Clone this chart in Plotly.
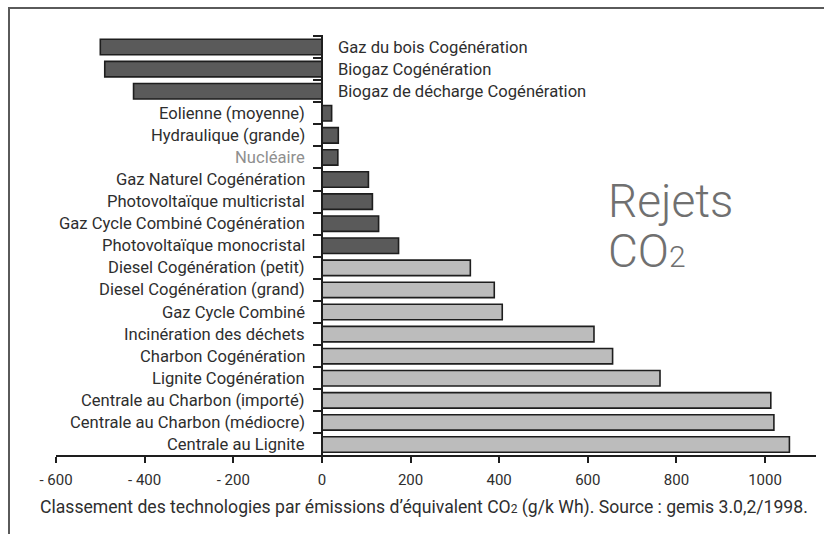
import plotly.graph_objects as go

categories = [
    "Gaz du bois Cogénération",
    "Biogaz Cogénération",
    "Biogaz de décharge Cogénération",
    "Eolienne (moyenne)",
    "Hydraulique (grande)",
    "Nucléaire",
    "Gaz Naturel Cogénération",
    "Photovoltaïque multicristal",
    "Gaz Cycle Combiné Cogénération",
    "Photovoltaïque monocristal",
    "Diesel Cogénération (petit)",
    "Diesel Cogénération (grand)",
    "Gaz Cycle Combiné",
    "Incinération des déchets",
    "Charbon Cogénération",
    "Lignite Cogénération",
    "Centrale au Charbon (importé)",
    "Centrale au Charbon (médiocre)",
    "Centrale au Lignite",
]
values = [-500, -490, -425, 22, 37, 36, 105, 114, 128, 173,
          335, 389, 407, 614, 656, 763, 1013, 1020, 1055]
is_renewable = [True] * 10 + [False] * 9

x_tick_vals = [-600, -400, -200, 0, 200, 400, 600, 800, 1000]
x_tick_text = ["- 600", "- 400", "- 200", "0", "200", "400", "600", "800", "1000"]

caption = ("Classement des technologies par émissions d’équivalent CO"
           "<span style='font-size:12px'>2</span> (g/k Wh). Source : gemis 3.0,2/1998.")

DARK = "#5a5a5a"
LIGHT = "#bcbcbc"
EDGE = "#1e1e1e"
TEXT = "#2e2e2e"
FONT = "Roboto"

W, H = 824, 534
ML, MR, MT, MB = 56, 8, 35, 79
x_range = [-600, 1115]

fig = go.Figure()
fig.add_trace(go.Bar(
    y=categories,
    x=values,
    orientation="h",
    marker=dict(color=[DARK if r else LIGHT for r in is_renewable],
                line=dict(color=EDGE, width=1.6)),
    hoverinfo="x+y",
))

annotations = []
for cat, v in zip(categories, values):
    color = "#8f8f8f" if cat == "Nucléaire" else TEXT
    if v < 0:
        annotations.append(dict(x=0, y=cat, xref="x", yref="y", text=cat,
                                showarrow=False, xanchor="left", xshift=14,
                                font=dict(family=FONT, size=16.6, color=color)))
    else:
        annotations.append(dict(x=0, y=cat, xref="x", yref="y", text=cat,
                                showarrow=False, xanchor="right", xshift=-15,
                                font=dict(family=FONT, size=16.6, color=color)))

pw = W - ML - MR
ph = H - MT - MB

def px_to_paper_x(p):
    return (p - ML) / pw

def px_to_paper_y(p):
    return (H - MB - p) / ph

annotations.append(dict(x=px_to_paper_x(424), y=px_to_paper_y(507), xref="paper", yref="paper",
                        text=caption, showarrow=False, xanchor="center", yanchor="middle",
                        font=dict(family=FONT, size=17.6, color=TEXT)))
annotations.append(dict(x=px_to_paper_x(606), y=px_to_paper_y(220), xref="paper", yref="paper",
                        text="Rejets", showarrow=False, xanchor="left", yanchor="bottom",
                        yshift=-10,
                        font=dict(family=FONT, size=46, color="#707070", weight=300)))
annotations.append(dict(x=px_to_paper_x(606), y=px_to_paper_y(270), xref="paper", yref="paper",
                        text="CO<span style='font-size:30px'>2</span>", showarrow=False,
                        xanchor="left", yanchor="bottom", yshift=-10,
                        font=dict(family=FONT, size=46, color="#707070", weight=300)))

zero_pos = (0 - x_range[0]) / (x_range[1] - x_range[0])

frame_line = dict(color="#5a5a5a", width=2)
shapes = [
    dict(type="line", xref="paper", yref="paper",
         x0=px_to_paper_x(8), x1=px_to_paper_x(W + 20),
         y0=px_to_paper_y(8), y1=px_to_paper_y(8), line=frame_line, layer="below"),
    dict(type="line", xref="paper", yref="paper",
         x0=px_to_paper_x(9), x1=px_to_paper_x(9),
         y0=px_to_paper_y(7), y1=px_to_paper_y(H + 20), line=frame_line, layer="below"),
]

fig.update_layout(
    width=W, height=H,
    margin=dict(l=ML, r=MR, t=MT, b=MB),
    paper_bgcolor="white", plot_bgcolor="white",
    showlegend=False,
    bargap=0.3,
    annotations=annotations,
    shapes=shapes,
    xaxis=dict(range=x_range, showgrid=False, zeroline=False,
               showline=True, linecolor=EDGE, linewidth=2,
               ticks="outside", ticklen=6, tickwidth=2, tickcolor=EDGE,
               tickvals=x_tick_vals, ticktext=x_tick_text,
               ticklabelstandoff=4,
               tickfont=dict(family=FONT, size=15, color=TEXT)),
    yaxis=dict(type="category", categoryorder="array", categoryarray=categories,
               range=[18.475, -0.545], showgrid=False, zeroline=False,
               anchor="free", position=zero_pos,
               showline=True, linecolor=EDGE, linewidth=2,
               showticklabels=False, tickson="boundaries",
               ticks="outside", ticklen=8, tickwidth=2, tickcolor=EDGE),
)

fig.write_html("out.html", config={"displayModeBar": False},
               post_script="document.body.style.margin='0';document.body.style.overflow='hidden';")
